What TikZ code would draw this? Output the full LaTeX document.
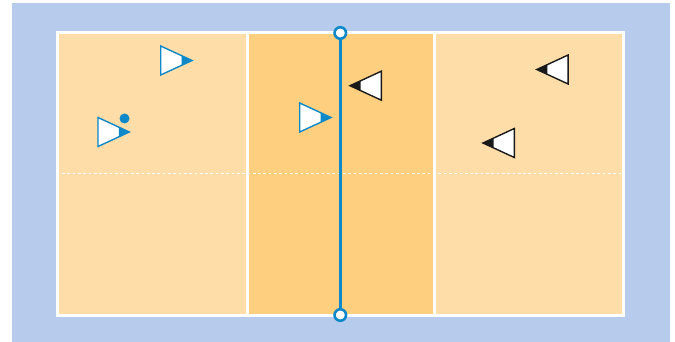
\documentclass[tikz,border=0pt]{standalone}
\usetikzlibrary{positioning}
\definecolor{Sky}{HTML}{B7CCEC}
\definecolor{Sand}{HTML}{FFDDA9}
\definecolor{Zone}{HTML}{FFCF80}
\definecolor{Net}{HTML}{0D88C8}
\definecolor{Ink}{HTML}{1A1A1A}
\tikzset{
  pics/player/.style={code={
    \draw[line width=1.4pt,#1,fill=white,line join=miter] (-31.3,-14.5) -- (0,0) -- (-31.3,14.5) -- cycle;
    \fill[#1] (-10.5,-5) -- (0,0) -- (-10.5,5) -- cycle;
  }}
}
\begin{document}
\begin{tikzpicture}[x=1pt,y=-1pt,
  line/.style={draw=white,line width=3pt},
  post/.style={circle,draw=Net,fill=white,line width=2.6pt,minimum size=11.5pt,inner sep=0pt},
  ball/.style={circle,fill=Net,minimum size=10pt,inner sep=0pt}
]
\useasboundingbox (0,0) rectangle (675,342);
\fill[Sky] (12,3) rectangle (670,342);
% court
\fill[Sand] (57.5,33) rectangle (623.5,315);
\fill[Zone] (247,33) rectangle (434,315);
\draw[line] (57.5,33) rectangle (623.5,315);
\draw[line] (247,33) -- (247,315);
\draw[line] (434,33) -- (434,315);
\draw[draw=white,line width=1.6pt,dash pattern=on 2.7pt off 2.6pt] (62,173.5) -- (621,173.5);
% net
\node[post] (top) at (340.3,33) {};
\node[post] (bot) at (340.3,315) {};
\draw[Net,line width=3.2pt] (top) -- (bot);
% left side
\pic at (192,60.5) {player=Net};
\pic at (129.3,132) {player=Net};
\pic at (331,117.5) {player=Net};
\node[ball] (dot) at (124.5,118.5) {};
% right side
\pic[xscale=-1] at (350,85.7) {player=Ink};
\pic[xscale=-1] at (536.8,69.5) {player=Ink};
\pic[xscale=-1] at (483,143) {player=Ink};
\end{tikzpicture}
\end{document}
